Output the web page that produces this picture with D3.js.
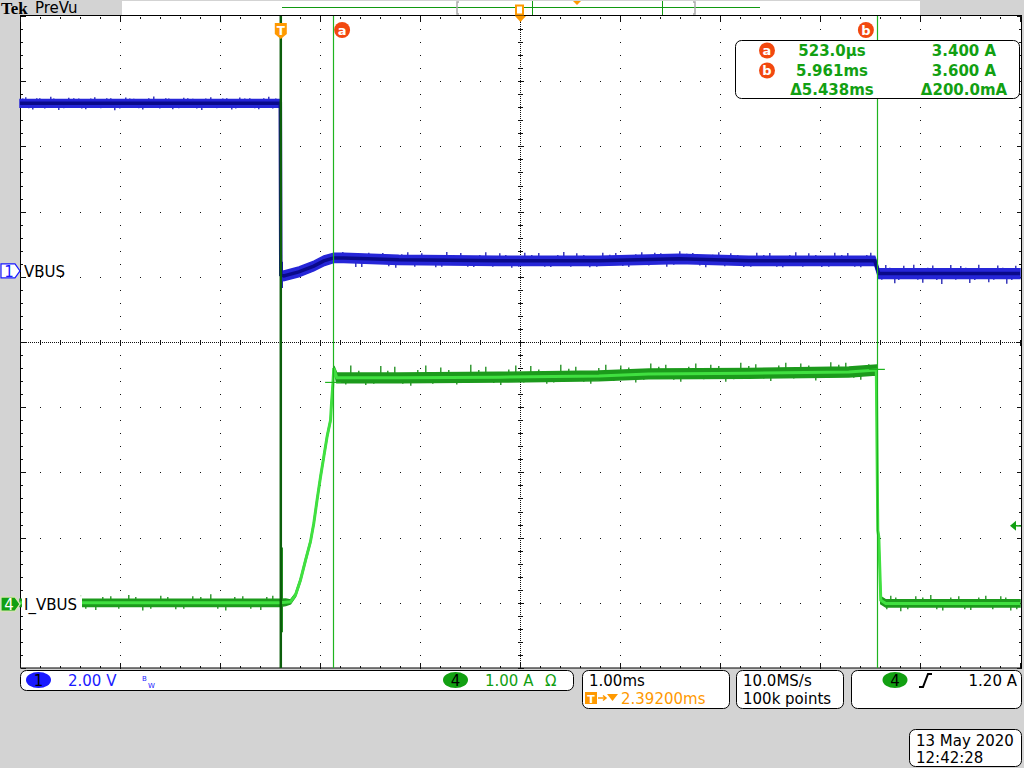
<!DOCTYPE html>
<html>
<head>
<meta charset="utf-8">
<script src="https://cdn.jsdelivr.net/npm/d3@7"></script>
<style>
  html, body { margin: 0; padding: 0; background: #d3d3d3; }
  svg { display: block; font-family: "DejaVu Sans", sans-serif; }
</style>
</head>
<body>
<div id="chart"></div>
<script>
// time axis in ms after the trigger
const vbusTime  = [-2.608, -0.005, 0.0, 0.03, 0.18, 0.33, 0.43, 0.53, 0.63, 1.18, 2.18, 3.18, 3.98, 4.68, 5.68, 5.94, 5.98, 7.392];
const vbusVolts = [5.14, 5.14, -0.12, -0.15, -0.03, 0.15, 0.31, 0.40, 0.40, 0.34, 0.31, 0.31, 0.37, 0.31, 0.31, 0.31, -0.08, -0.08];
const vbusNoise = [0.12, 0.12, 0.12, 0.15, 0.15, 0.15, 0.15, 0.14, 0.14, 0.14, 0.14, 0.14, 0.14, 0.14, 0.14, 0.14, 0.15, 0.15];

const ibusTime  = [-2.608, -0.01, 0.05, 0.097, 0.147, 0.197, 0.247, 0.297, 0.33, 0.363, 0.397, 0.43, 0.463, 0.497, 0.507, 0.52, 0.53, 0.56, 1.18, 2.18, 3.18, 3.68, 4.68, 5.68, 5.955, 5.97, 5.98, 6.0, 6.05, 7.392];
const ibusAmps  = [0.02, 0.02, 0.03, 0.035, 0.14, 0.37, 0.67, 0.96, 1.24, 1.60, 1.95, 2.26, 2.57, 2.82, 3.08, 3.36, 3.62, 3.47, 3.47, 3.48, 3.50, 3.53, 3.54, 3.56, 3.59, 1.13, 1.03, 0.06, 0.01, 0.01];
const ibusNoise = [0.055, 0.055, 0.05, 0.03, 0.025, 0.025, 0.025, 0.025, 0.025, 0.025, 0.025, 0.025, 0.025, 0.025, 0.025, 0.025, 0.03, 0.075, 0.075, 0.075, 0.075, 0.075, 0.075, 0.075, 0.075, 0.02, 0.02, 0.055, 0.055, 0.055];

// noise spikes [time, tip value]
const vbusSpikes = [
  [-2.55,5.33],[-2.48,4.95],[-2.41,5.30],[-2.30,5.34],[-2.22,4.94],[-2.12,5.31],[-2.02,5.29],[-1.95,4.96],
  [-1.86,5.33],[-1.74,5.30],[-1.66,4.93],[-1.55,5.32],[-1.47,5.28],[-1.38,4.95],[-1.27,5.35],[-1.15,5.30],
  [-1.08,4.96],[-0.97,5.31],[-0.88,5.28],[-0.79,4.94],[-0.70,5.33],[-0.58,5.29],[-0.49,4.95],[-0.41,5.32],
  [-0.31,5.30],[-0.22,4.96],[-0.12,5.34],[-0.05,5.29],
  [0.015,-0.52],[0.015,0.28],
  [0.62,0.58],[0.75,0.12],[0.88,0.56],[1.02,0.55],[1.15,0.10],[1.27,0.57],[1.41,0.54],[1.55,0.11],
  [1.66,0.58],[1.80,0.55],[1.93,0.12],[2.05,0.57],[2.19,0.54],[2.31,0.10],[2.44,0.56],[2.58,0.55],
  [2.70,0.12],[2.83,0.58],[2.96,0.54],[3.09,0.11],[3.22,0.56],[3.35,0.55],[3.48,0.12],[3.61,0.57],
  [3.74,0.56],[3.86,0.13],[3.99,0.60],[4.12,0.55],[4.25,0.11],[4.38,0.57],[4.50,0.54],[4.63,0.12],
  [4.76,0.56],[4.89,0.55],[5.02,0.11],[5.15,0.57],[5.28,0.54],[5.41,0.12],[5.54,0.56],[5.67,0.55],
  [5.80,0.11],[5.90,0.56],
  [6.05,0.18],[6.14,-0.38],[6.23,0.16],[6.33,0.19],[6.42,-0.36],[6.52,0.17],[6.61,-0.40],[6.70,0.18],
  [6.80,0.15],[6.89,-0.37],[6.98,0.19],[7.08,-0.35],[7.17,0.17],[7.26,-0.39],[7.35,0.16]
];
const vbusFine = [
  [-2.58,5.29],[-2.52,4.99],[-2.44,5.30],[-2.36,4.98],[-2.27,5.29],[-2.17,4.99],[-2.07,5.30],[-1.99,4.98],
  [-1.90,5.29],[-1.80,4.99],[-1.70,5.30],[-1.61,4.98],[-1.51,5.29],[-1.42,4.99],[-1.32,5.30],[-1.21,4.98],
  [-1.12,5.29],[-1.02,4.99],[-0.93,5.30],[-0.84,4.98],[-0.75,5.29],[-0.64,4.99],[-0.54,5.30],[-0.45,4.98],
  [-0.36,5.29],[-0.26,4.99],[-0.17,5.30],[-0.08,4.98],
  [0.68,0.54],[0.81,0.12],[0.95,0.52],[1.08,0.14],[1.21,0.51],[1.34,0.13],[1.48,0.49],[1.61,0.13],
  [1.73,0.49],[1.87,0.13],[1.99,0.49],[2.12,0.13],[2.25,0.49],[2.38,0.13],[2.51,0.49],[2.64,0.13],
  [2.77,0.49],[2.90,0.13],[3.03,0.49],[3.16,0.13],[3.29,0.50],[3.42,0.15],[3.55,0.51],[3.68,0.17],
  [3.80,0.54],[3.93,0.19],[4.06,0.53],[4.19,0.17],[4.32,0.50],[4.44,0.14],[4.57,0.49],[4.70,0.13],
  [4.83,0.49],[4.96,0.13],[5.09,0.49],[5.22,0.13],[5.35,0.49],[5.48,0.13],[5.61,0.49],[5.74,0.13],
  [5.86,0.49],
  [6.01,-0.27],[6.09,0.10],[6.18,-0.28],[6.28,0.09],[6.37,-0.27],[6.47,0.10],[6.56,-0.28],[6.66,0.09],
  [6.75,-0.27],[6.85,0.10],[6.94,-0.28],[7.03,0.09],[7.13,-0.27],[7.22,0.10],[7.31,-0.28]
];
const ibusSpikes = [
  [-2.0,0.13],[-1.85,-0.09],[-1.7,0.12],[-1.52,0.14],[-1.38,-0.10],[-1.2,0.13],[-1.05,-0.08],[-0.88,0.12],
  [-0.7,0.15],[-0.55,-0.10],[-0.38,0.12],[-0.2,-0.09],[-0.08,0.13],
  [0.015,0.87],[0.015,-0.43],
  [0.7,3.66],[0.85,3.36],[1.0,3.65],[1.14,3.64],[1.3,3.35],[1.45,3.66],[1.6,3.63],[1.76,3.37],
  [1.9,3.67],[2.05,3.64],[2.2,3.36],[2.35,3.66],[2.5,3.65],[2.66,3.38],[2.8,3.67],[2.95,3.64],
  [3.1,3.38],[3.25,3.67],[3.4,3.66],[3.55,3.40],[3.7,3.69],[3.85,3.67],[4.0,3.41],[4.15,3.69],
  [4.3,3.67],[4.45,3.41],[4.6,3.70],[4.75,3.68],[4.9,3.42],[5.05,3.70],[5.2,3.69],[5.35,3.43],
  [5.5,3.71],[5.65,3.70],[5.8,3.44],
  [6.1,0.13],[6.2,-0.11],[6.35,0.12],[6.5,0.14],[6.62,-0.10],[6.78,0.12],[6.9,-0.09],[7.05,0.13],
  [7.2,0.12],[7.3,-0.10]
];
const ibusFine = [
  [-1.95,-0.07],[-1.78,0.11],[-1.62,-0.07],[-1.45,0.11],[-1.30,-0.07],[-1.13,0.11],[-0.97,-0.07],[-0.80,0.11],
  [-0.63,-0.07],[-0.46,0.11],[-0.30,-0.07],[-0.14,0.11],
  [0.65,3.37],[0.78,3.58],[0.93,3.38],[1.07,3.58],[1.22,3.38],[1.37,3.59],[1.52,3.38],[1.68,3.59],
  [1.83,3.39],[1.98,3.59],[2.13,3.39],[2.28,3.60],[2.43,3.40],[2.58,3.60],[2.73,3.40],[2.88,3.61],
  [3.03,3.41],[3.18,3.62],[3.33,3.42],[3.48,3.63],[3.63,3.44],[3.78,3.64],[3.93,3.44],[4.08,3.64],
  [4.23,3.45],[4.38,3.65],[4.53,3.45],[4.68,3.65],[4.83,3.46],[4.98,3.66],[5.13,3.46],[5.28,3.66],
  [5.43,3.47],[5.58,3.67],[5.73,3.47],[5.88,3.68],
  [6.06,-0.08],[6.15,0.10],[6.27,-0.08],[6.42,0.10],[6.56,-0.08],[6.70,0.10],[6.84,-0.08],[6.98,0.10],
  [7.12,-0.08],[7.25,0.10],[7.36,-0.08]
];

const cursorA = 0.523;
const cursorB = 5.961;
const cursorLevels = [3.40, 3.60];
const triggerLevel = 1.20;
const readoutTimes = ["523.0µs", "5.961ms", "Δ5.438ms"];
const readoutAmps = ["3.400 A", "3.600 A", "Δ200.0mA"];

const width = 1024;
const height = 768;
const plot = { left: 20, right: 1020, top: 16, bottom: 668 };

const orange = "#ff9900";
const cursorRed = "#f2480f";
const cursorGreen = "#1fb41f";
const textGreen = "#12a012";
const blue = "#1a1aff";

const x = d3.scaleLinear().domain([-2.608, 7.392]).range([plot.left, plot.right]);
const yV = d3.scaleLinear().domain([-12.18, 7.82]).range([plot.bottom, plot.top]);
const yI = d3.scaleLinear().domain([-0.98, 9.02]).range([plot.bottom, plot.top]);
const gx = d3.scaleLinear().domain([0, 10]).range([plot.left, plot.right]);
const gy = d3.scaleLinear().domain([0, 10]).range([plot.top, plot.bottom]);

const svg = d3.create("svg")
    .attr("width", width)
    .attr("height", height);

svg.append("rect").attr("width", width).attr("height", height).attr("fill", "#d3d3d3");

// plot area
svg.append("rect")
    .attr("x", plot.left + 0.5).attr("y", plot.top - 0.5)
    .attr("width", 1001).attr("height", plot.bottom - plot.top + 0.5)
    .attr("fill", "#fff").attr("stroke", "#000");

// graticule
const grid = svg.append("g").attr("fill", "#111");
const minors = d3.range(0, 50.001, 1).map(d => d / 5);
for (let i = 1; i < 10; i++) {
    if (i === 5) continue;
    grid.append("g").selectAll("rect").data(minors).join("rect")
        .attr("x", Math.round(gx(i))).attr("y", d => Math.round(gy(d)))
        .attr("width", 1).attr("height", 1);
    grid.append("g").selectAll("rect").data(minors).join("rect")
        .attr("x", d => Math.round(gx(d))).attr("y", Math.round(gy(i)))
        .attr("width", 1).attr("height", 1);
}
// center crosshair
grid.append("line")
    .attr("x1", plot.left).attr("x2", plot.right)
    .attr("y1", Math.round(gy(5)) + 0.5).attr("y2", Math.round(gy(5)) + 0.5)
    .attr("stroke", "#111").attr("stroke-dasharray", "1,1");
grid.append("line")
    .attr("y1", plot.top).attr("y2", plot.bottom)
    .attr("x1", gx(5) + 0.5).attr("x2", gx(5) + 0.5)
    .attr("stroke", "#111").attr("stroke-dasharray", "1,1");
grid.append("g").selectAll("rect").data(minors).join("rect")
    .attr("x", d => Math.round(gx(d))).attr("y", Math.round(gy(5)) - 2)
    .attr("width", 1).attr("height", (d, i) => i % 5 === 0 ? 6 : 5);
grid.append("g").selectAll("rect").data(minors).join("rect")
    .attr("y", d => Math.round(gy(d))).attr("x", gx(5) - 2)
    .attr("height", 1).attr("width", (d, i) => i % 5 === 0 ? 6 : 5);
// edge ticks
grid.append("g").selectAll("rect").data(minors).join("rect")
    .attr("x", d => Math.round(gx(d))).attr("y", plot.top + 1)
    .attr("width", 1).attr("height", (d, i) => i % 5 === 0 ? 5 : 2);
grid.append("g").selectAll("rect").data(minors).join("rect")
    .attr("x", d => Math.round(gx(d))).attr("y", (d, i) => plot.bottom - (i % 5 === 0 ? 5 : 2))
    .attr("width", 1).attr("height", (d, i) => i % 5 === 0 ? 5 : 2);
grid.append("g").selectAll("rect").data(minors).join("rect")
    .attr("y", d => Math.round(gy(d))).attr("x", plot.left + 1)
    .attr("height", 1).attr("width", (d, i) => i % 5 === 0 ? 5 : 2);
grid.append("g").selectAll("rect").data(minors).join("rect")
    .attr("y", d => Math.round(gy(d))).attr("x", (d, i) => plot.right - (i % 5 === 0 ? 3 : 1))
    .attr("height", 1).attr("width", (d, i) => i % 5 === 0 ? 5 : 2);

// traces
function drawTrace(times, values, noise, spikes, fine, yScale, outer, inner, spikeColor, coreWidth) {
    const pts = times.map((t, i) => ({ t, v: values[i], n: noise[i] }));
    const base = t => values[Math.min(d3.bisectLeft(times, t), values.length - 1)];
    const g = svg.append("g");
    g.append("g").selectAll("line").data(spikes.concat(fine)).join("line")
        .attr("x1", d => x(d[0])).attr("x2", d => x(d[0]))
        .attr("y1", d => yScale(base(d[0])))
        .attr("y2", d => yScale(d[1]))
        .attr("stroke", spikeColor).attr("stroke-width", 1.3);
    g.append("path").datum(pts)
        .attr("d", d3.area().x(d => x(d.t)).y0(d => yScale(d.v - d.n)).y1(d => yScale(d.v + d.n)))
        .attr("fill", outer).attr("stroke", outer).attr("stroke-width", 1.5);
    g.append("path").datum(pts)
        .attr("d", d3.line().x(d => x(d.t)).y(d => yScale(d.v)))
        .attr("fill", "none").attr("stroke", inner).attr("stroke-width", coreWidth);
}
drawTrace(vbusTime, vbusVolts, vbusNoise, vbusSpikes, vbusFine, yV, "#2626d8", "#0a0a8a", "#1a1ab0", 3.5);
drawTrace(ibusTime, ibusAmps, ibusNoise, ibusSpikes, ibusFine, yI, "#1c9a1c", "#40e040", "#178a17", 3);

// trigger edge line
svg.append("line")
    .attr("x1", x(0)).attr("x2", x(0))
    .attr("y1", plot.top).attr("y2", plot.bottom)
    .attr("stroke", "#0b5e0b").attr("stroke-width", 2.5);

// cursors
svg.append("g").selectAll("line").data([cursorA, cursorB]).join("line")
    .attr("x1", d => Math.round(x(d)) + 0.5).attr("x2", d => Math.round(x(d)) + 0.5)
    .attr("y1", plot.top).attr("y2", plot.bottom)
    .attr("stroke", cursorGreen).attr("stroke-width", 1.2);
svg.append("g").selectAll("line").data([cursorA, cursorB]).join("line")
    .attr("x1", d => x(d) - 8).attr("x2", d => x(d) + 8)
    .attr("y1", (d, i) => yI(cursorLevels[i])).attr("y2", (d, i) => yI(cursorLevels[i]))
    .attr("stroke", cursorGreen).attr("stroke-width", 1.2);

function cursorBadge(g, cx, cy, label) {
    g.append("circle").attr("cx", cx).attr("cy", cy).attr("r", 8).attr("fill", cursorRed);
    g.append("text").attr("x", cx).attr("y", cy + 4.5).attr("text-anchor", "middle")
        .attr("fill", "#fff").attr("font-size", 13).attr("font-weight", "bold").text(label);
}
cursorBadge(svg, x(cursorA) + 9, 30, "a");
cursorBadge(svg, x(cursorB) - 11, 30, "b");

// trigger T marker
const tm = svg.append("g").attr("transform", `translate(${x(0)},0)`);
tm.append("path").attr("d", "M-6,23 H6 V34 L0,39 L-6,34 Z").attr("fill", orange);
tm.append("text").attr("y", 35).attr("text-anchor", "middle").attr("fill", "#fff")
    .attr("font-size", 12).attr("font-weight", "bold").text("T");

// trigger level arrow
const tl = yI(triggerLevel);
svg.append("path").attr("d", `M1010,${tl} L1016,${tl - 5} V${tl + 5} Z`).attr("fill", textGreen);
svg.append("line").attr("x1", 1016).attr("x2", 1021).attr("y1", tl).attr("y2", tl)
    .attr("stroke", textGreen).attr("stroke-width", 1.5);

// channel labels
svg.append("text").attr("x", 24).attr("y", yV(0) + 6).attr("font-size", 15).attr("fill", "#000").text("VBUS");
svg.append("rect").attr("x", 22).attr("y", yI(0) - 8).attr("width", 60).attr("height", 16).attr("fill", "#fff");
svg.append("text").attr("x", 24).attr("y", yI(0) + 6).attr("font-size", 15).attr("fill", "#000").text("I_VBUS");

function channelMarker(cy, fill, stroke, textColor, label) {
    svg.append("path")
        .attr("d", `M1,${cy - 7} H15 L20,${cy} L15,${cy + 7} H1 Z`)
        .attr("fill", fill).attr("stroke", stroke).attr("stroke-width", 1.2);
    svg.append("text").attr("x", 9).attr("y", cy + 6).attr("text-anchor", "middle")
        .attr("font-size", 15).attr("fill", textColor).text(label);
}
channelMarker(yV(0), "#fff", blue, blue, "1");
channelMarker(yI(0), "#12a012", "#d8e8b0", "#fff", "4");

// top record bar
svg.append("rect").attr("x", 122).attr("y", 1).attr("width", 798).attr("height", 14).attr("fill", "#fff");
svg.append("line").attr("x1", 282).attr("x2", 760).attr("y1", 7.5).attr("y2", 7.5).attr("stroke", "#119911");
svg.append("path").attr("d", "M459,2 H457 V14 H459 M693,2 H695 V14 H693").attr("fill", "none")
    .attr("stroke", "#aaa").attr("stroke-width", 1.5);
svg.append("g").selectAll("line").data([532, 662]).join("line")
    .attr("x1", d => d + 0.5).attr("x2", d => d + 0.5).attr("y1", 1).attr("y2", 15)
    .attr("stroke", "#119911");
svg.append("path").attr("d", "M573,1 H581 L577,5 Z").attr("fill", orange);
svg.append("rect").attr("x", 516).attr("y", 5.5).attr("width", 7).attr("height", 9)
    .attr("fill", "#fff").attr("stroke", orange).attr("stroke-width", 2);
svg.append("path").attr("d", `M${gx(5) - 5},16 H${gx(5) + 6} L${gx(5) + 0.5},22 Z`).attr("fill", orange);
svg.append("text").attr("x", 1).attr("y", 14).attr("font-family", "'Liberation Serif', serif")
    .attr("font-weight", "bold").attr("font-size", 17).attr("fill", "#000").text("Tek");
svg.append("text").attr("x", 35).attr("y", 13).attr("font-size", 15).attr("fill", "#000").text("PreVu");

// cursor readout
const ro = svg.append("g");
ro.append("rect").attr("x", 735.5).attr("y", 40.5).attr("width", 284).attr("height", 58).attr("rx", 6)
    .attr("fill", "#fff").attr("stroke", "#000");
cursorBadge(ro, 767, 50.5, "a");
cursorBadge(ro, 767, 70.5, "b");
ro.append("g").selectAll("text").data(readoutTimes).join("text")
    .attr("x", 832).attr("y", (d, i) => 56 + i * 19.5).attr("text-anchor", "middle")
    .attr("font-size", 15).attr("font-weight", "bold").attr("fill", textGreen).text(d => d);
ro.append("g").selectAll("text").data(readoutAmps).join("text")
    .attr("x", 964).attr("y", (d, i) => 56 + i * 19.5).attr("text-anchor", "middle")
    .attr("font-size", 15).attr("font-weight", "bold").attr("fill", textGreen).text(d => d);

// bottom status boxes
function box(x0, y0, w, h) {
    svg.append("rect").attr("x", x0 + 0.5).attr("y", y0 + 0.5).attr("width", w).attr("height", h).attr("rx", 6)
        .attr("fill", "#fff").attr("stroke", "#000");
}
function pill(cx, cy, fill, label) {
    svg.append("ellipse").attr("cx", cx).attr("cy", cy).attr("rx", 12.5).attr("ry", 8).attr("fill", fill);
    svg.append("text").attr("x", cx).attr("y", cy + 5.5).attr("text-anchor", "middle")
        .attr("font-size", 15).attr("fill", "#000").text(label);
}
function label(x0, y0, txt, color, anchor = "start") {
    svg.append("text").attr("x", x0).attr("y", y0).attr("text-anchor", anchor)
        .attr("font-size", 15).attr("fill", color).text(txt);
}

box(20, 670, 553, 20);
pill(38.5, 680, blue, "1");
label(68, 686, "2.00 V", blue);
svg.append("text").attr("x", 142).attr("y", 681).attr("font-size", 7).attr("fill", blue).text("B");
svg.append("text").attr("x", 148).attr("y", 688).attr("font-size", 7).attr("fill", blue).text("W");
pill(455.5, 680, "#12a012", "4");
label(485, 686, "1.00 A", textGreen);
label(545, 686, "Ω", textGreen);

box(582, 670, 147, 38);
label(589, 686, "1.00ms", "#000");
svg.append("rect").attr("x", 585).attr("y", 692).attr("width", 12).attr("height", 12).attr("fill", orange);
svg.append("text").attr("x", 591).attr("y", 702.5).attr("text-anchor", "middle").attr("font-size", 11)
    .attr("font-weight", "bold").attr("fill", "#fff").text("T");
svg.append("path").attr("d", "M598,698 H605 M603,695.5 L606,698 L603,700.5").attr("fill", "none")
    .attr("stroke", orange).attr("stroke-width", 1.5);
svg.append("path").attr("d", "M607,694 H618 L612.5,701 Z").attr("fill", orange);
label(621, 704, "2.39200ms", orange);

box(736, 670, 107, 38);
label(743, 686, "10.0MS/s", "#000");
label(743, 704, "100k points", "#000");

box(851, 670, 170, 38);
pill(895, 680, "#12a012", "4");
svg.append("path").attr("d", "M919,687 H923 L928,674 H932").attr("fill", "none")
    .attr("stroke", "#000").attr("stroke-width", 2);
label(1017, 686, "1.20 A", "#000", "end");

box(909, 729, 112, 37);
label(916, 746, "13 May 2020", "#000");
label(916, 763, "12:42:28", "#000");

d3.select("#chart").node().append(svg.node());
</script>
</body>
</html>
